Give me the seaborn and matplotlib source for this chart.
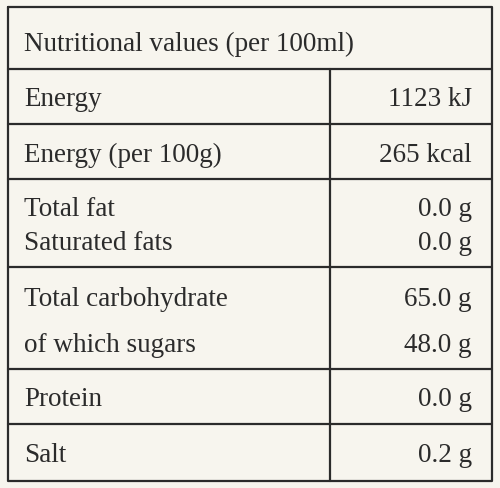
import matplotlib
matplotlib.use("Agg")
import matplotlib.pyplot as plt
import seaborn as sns

# --- DATA ---
TITLE = "Nutritional values (per 100ml)"
NUTRIENTS = ["Energy", "Energy (per 100g)", "Total fat", "Saturated fats",
             "Total carbohydrate", "of which sugars", "Protein", "Salt"]
VALUES = ["1123 kJ", "265 kcal", "0.0 g", "0.0 g", "65.0 g", "48.0 g", "0.0 g", "0.2 g"]

# --- LAYOUT (pixels) ---
BG = "#f7f5ee"
INK = "#2b2b2b"
LEFT, RIGHT, TOP, BOTTOM = 8, 492, 8, 482
HEADER_BOTTOM = 70
ROW_EDGES = [70, 125, 180, 268, 370, 425, 482]
LINE_Y = [100, 155, 209, 243, 300, 345, 400, 455]
SPLIT_X = 330
FS = 19.5

sns.set_theme(style="white")
plt.rcParams['font.family'] = ['Liberation Serif', 'DejaVu Serif']

fig = plt.figure(figsize=(5, 4.89), dpi=100, facecolor=BG)
ax = fig.add_axes([0, 0, 1, 1])
ax.set_xlim(0, 500)
ax.set_ylim(489, 0)
ax.axis("off")
ax.set_facecolor(BG)

lw = 1.6
ax.plot([LEFT, RIGHT, RIGHT, LEFT, LEFT], [TOP, TOP, BOTTOM, BOTTOM, TOP], color=INK, lw=lw)
for y in ROW_EDGES[:-1]:
    ax.plot([LEFT, RIGHT], [y, y], color=INK, lw=lw)
ax.plot([SPLIT_X, SPLIT_X], [HEADER_BOTTOM, BOTTOM], color=INK, lw=lw)

ax.text(24, 44, TITLE, fontsize=FS, color=INK, va="center", ha="left")
for name, val, y in zip(NUTRIENTS, VALUES, LINE_Y):
    ax.text(24, y, name, fontsize=FS, color=INK, va="center", ha="left")
    ax.text(472, y, val, fontsize=FS, color=INK, va="center", ha="right")

fig.savefig("out.png", dpi=100, facecolor=BG)
